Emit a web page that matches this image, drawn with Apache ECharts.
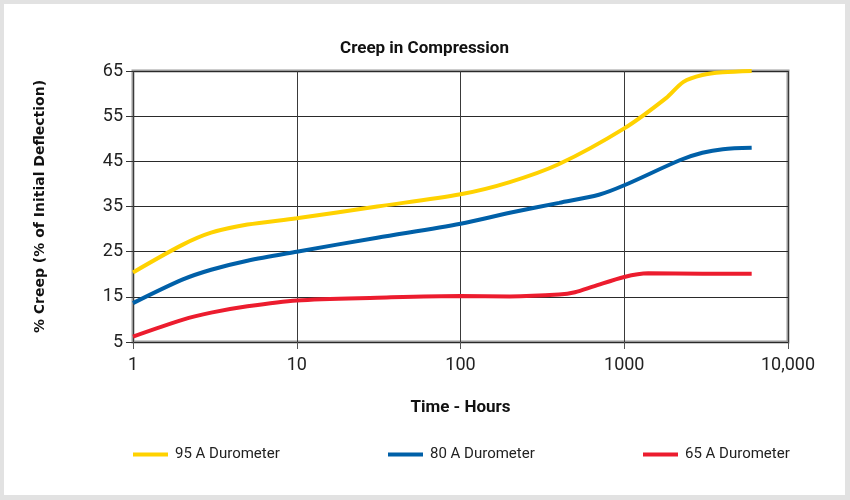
<!DOCTYPE html>
<html>
<head>
<meta charset="utf-8">
<script src="https://cdn.jsdelivr.net/npm/echarts@6/dist/echarts.min.js"></script>
<style>
  html, body { margin: 0; padding: 0; background: #e2e2e2; }
  #chart {
    position: absolute; left: 0; top: 0;
    width: 850px; height: 500px;
    box-sizing: border-box;
    border-style: solid; border-color: #e2e2e2;
    border-width: 4px 5px 5px 4px;
    background: #fff;
  }
</style>
</head>
<body>
<div id="chart"></div>
<script>
// time in hours, creep in % of initial deflection
const hours95 = [1, 2, 3, 5, 10, 31, 100, 200, 400, 1000, 1800, 2300, 3000, 4000, 6000]
const creep95 = [20.4, 26.5, 29.2, 31, 32.4, 35, 37.7, 40.4, 44.4, 52.3, 59, 62.6, 64.1, 64.7, 65]

const hours80 = [1, 2, 3, 5, 10, 31, 100, 200, 400, 700, 1000, 2200, 3000, 4000, 6000]
const creep80 = [13.6, 18.8, 21, 23, 25, 28.1, 31.2, 33.6, 35.8, 37.6, 39.7, 45.3, 46.9, 47.7, 48]

const hours65 = [1, 2, 3, 5, 10, 31, 100, 200, 400, 500, 650, 1000, 1400, 3000, 6000]
const creep65 = [6.2, 9.9, 11.5, 12.9, 14.2, 14.8, 15.2, 15.1, 15.5, 16, 17.3, 19.4, 20.2, 20.1, 20.1]

const seriesNames = ['95 A Durometer', '80 A Durometer', '65 A Durometer']
const seriesColors = ['#ffd200', '#0060a8', '#ec1c2e']
const yTicks = [5, 15, 25, 35, 45, 55, 65]

const narrow = "'Roboto', sans-serif"

const pairs = (xs, ys) => xs.map((x, i) => [x, ys[i]])
const seriesData = [pairs(hours95, creep95), pairs(hours80, creep80), pairs(hours65, creep65)]

const chart = echarts.init(document.getElementById('chart'))

const legendLefts = [129, 384, 639]

const option = {
  animation: false,
  title: {
    text: 'Creep in Compression',
    left: 'center',
    top: 31,
    textStyle: { fontFamily: narrow, fontSize: 17, fontWeight: 'bold', color: '#111' }
  },
  legend: seriesNames.map((name, i) => ({
    data: [name],
    left: legendLefts[i],
    top: 443,
    padding: 0,
    icon: 'rect',
    itemWidth: 35,
    itemHeight: 4,
    itemGap: 0,
    textStyle: { fontFamily: narrow, fontSize: 15, color: '#222', padding: [0, 0, 0, 2] }
  })),
  grid: {
    left: 129, right: 57, top: 67, bottom: 153,
    show: true,
    borderColor: '#9a9a9a',
    borderWidth: 3
  },
  xAxis: {
    type: 'log',
    logBase: 10,
    min: 1,
    max: 10000,
    name: 'Time - Hours',
    nameLocation: 'middle',
    nameGap: 57,
    nameTextStyle: { fontFamily: narrow, fontSize: 17, fontWeight: 'bold', color: '#111' },
    axisLine: { show: false },
    axisTick: { show: true, length: 7, lineStyle: { color: '#555' } },
    axisLabel: {
      margin: 14,
      fontFamily: narrow, fontSize: 18, color: '#222',
      formatter: v => {
        const n = Math.round(v)
        return n >= 10000 ? n.toLocaleString('en-US') : String(n)
      }
    },
    splitLine: { show: true, lineStyle: { color: '#3a3a3a', width: 1 } },
    minorTick: { show: false }
  },
  yAxis: {
    type: 'value',
    min: 5,
    max: 65,
    interval: 10,
    name: '% Creep (% of Initial Deflection)',
    nameLocation: 'middle',
    nameGap: 86,
    nameTextStyle: { fontFamily: "'DejaVu Sans', sans-serif", fontSize: 14, fontWeight: 'bold', color: '#111' },
    axisLine: { show: false },
    axisTick: { show: true, length: 7, lineStyle: { color: '#333' } },
    axisLabel: {
      margin: 10,
      fontFamily: narrow, fontSize: 18, color: '#222',
      customValues: yTicks
    },
    splitLine: { show: true, lineStyle: { color: '#2a2a2a', width: 1 } }
  },
  series: seriesNames.map((name, i) => ({
    name,
    type: 'line',
    data: seriesData[i],
    smooth: 0.3,
    showSymbol: false,
    symbol: 'none',
    color: seriesColors[i],
    lineStyle: { width: 4, color: seriesColors[i] }
  }))
}

chart.setOption(option)
</script>
</body>
</html>
